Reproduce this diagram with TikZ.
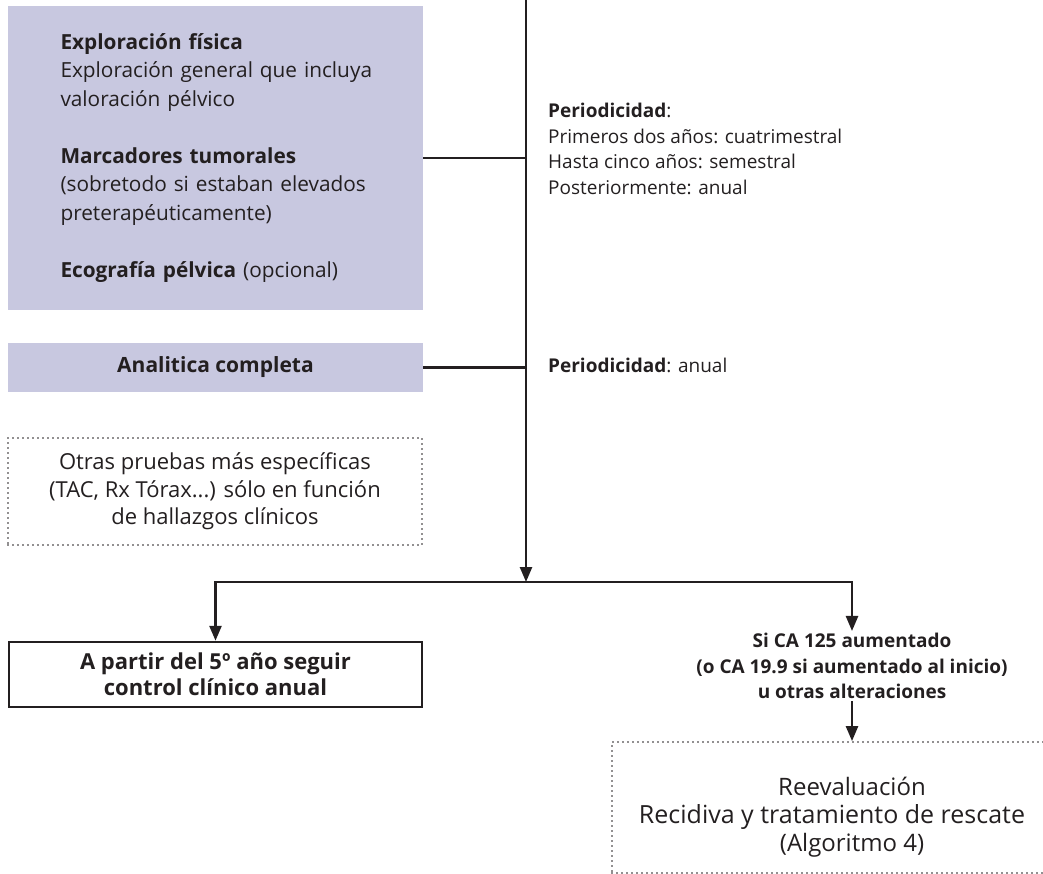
\documentclass[tikz,border=0pt]{standalone}
\usepackage{fontspec}
\setmainfont{Open Sans}
\usetikzlibrary{arrows.meta,positioning}
\definecolor{ink}{HTML}{231F20}
\definecolor{lila}{HTML}{C8C8E0}
\tikzset{
  txt/.style={font=\fontsize{19}{25.5}\selectfont},
  btxt/.style={font=\bfseries\fontsize{19}{25.5}\selectfont},
  filled/.style={fill=lila, minimum width=415pt},
  dotbox/.style={draw=ink, line width=1.8pt, dash pattern=on 0pt off 5pt, line cap=round},
  framed/.style={draw=ink, line width=2.5pt, minimum width=413pt},
  wire/.style={draw=ink, line width=2.5pt},
  arrow/.style={wire, -{Triangle[length=15pt,width=12pt]}}
}
\begin{document}
\begin{tikzpicture}[x=1pt, y=-1pt, every node/.style={text=ink, inner sep=0pt}]
  \useasboundingbox (0,0) rectangle (1043,874);

  \node (exam) [filled, minimum height=304pt, text width=330pt, inner xsep=42.5pt, align=left,
                font=\fontsize{20.8}{28.5}\selectfont] at (215.5,158)
    {\hspace*{10pt}\textbf{Exploración física}\\\hspace*{10pt}Exploración general que incluya\\\hspace*{10pt}valoración pélvico\\[28.5pt]
     \hspace*{10pt}\textbf{Marcadores tumorales}\\\hspace*{10pt}(sobretodo si estaban elevados\\\hspace*{10pt}preterapéuticamente)\\[28.5pt]
     \hspace*{10pt}\textbf{Ecografía pélvica} (opcional)};
  \node (lab) [filled, minimum height=49pt, font=\bfseries\fontsize{21}{24}\selectfont] at (215.5,367.5)
    {Analitica completa};
  \node (other) [dotbox, minimum width=414pt, minimum height=107pt, align=center,
                 font=\fontsize{22}{27.5}\selectfont] at (215,491.5)
    {Otras pruebas más específicas\\(TAC, Rx Tórax...) sólo en función\\de hallazgos clínicos};

  \node (freq) [txt, anchor=north west, align=left] at (548,103)
    {\textbf{Periodicidad}:\\Primeros dos años: cuatrimestral\\Hasta cinco años: semestral\\Posteriormente: anual};
  \node (freq2) [txt, anchor=west] at (548,365) {\textbf{Periodicidad}: anual};

  \node (fifth) [framed, minimum height=65pt, align=center,
                 font=\bfseries\fontsize{22}{26}\selectfont] at (215.5,674.5)
    {A partir del 5º año seguir\\control clínico anual};
  \node (ca) [btxt, align=center, inner ysep=2pt] at (852,666)
    {Si CA 125 aumentado\\(o CA 19.9 si aumentado al inicio)\\u otras alteraciones};
  \node (revis) [dotbox, minimum width=480pt, minimum height=131pt, align=center,
                 font=\fontsize{24}{28}\selectfont] at (852,807.5)
    {\rule{0pt}{38pt}Reevaluación\\\mbox{\fontsize{25}{28}\selectfont Recidiva y tratamiento de rescate\hspace{40pt}}\\(Algoritmo 4)};

  \coordinate (top) at (526,0);
  \coordinate (split) at (526,582);

  \draw [arrow] (top) -- (split);
  \draw [wire] (exam.east) -- (exam.east -| top);
  \draw [wire] (lab.east) -- (lab.east -| top);

  \draw [arrow] (split) -| (fifth.north);
  \draw [arrow] (split) -| (ca.north);
  \draw [arrow] (ca.south) -- (revis.north);
\end{tikzpicture}
\end{document}
